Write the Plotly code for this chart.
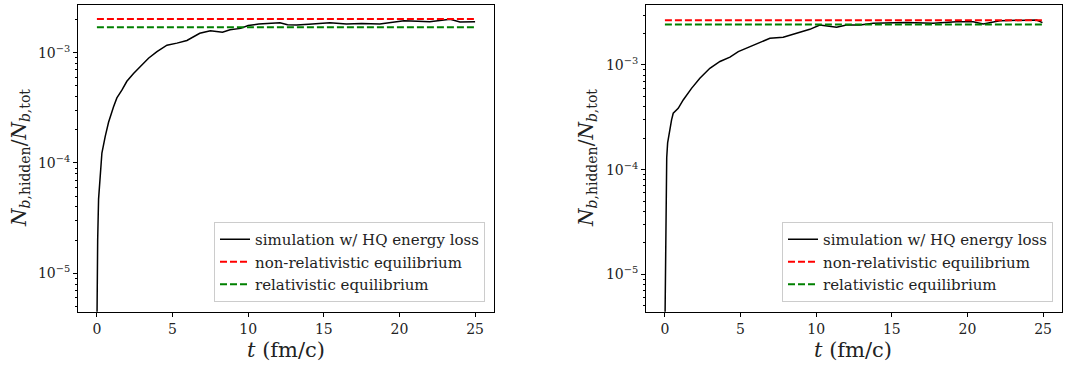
import plotly.graph_objects as go

# ---- data ----
t_left = [0, 0.02, 0.05, 0.11, 0.22, 0.33, 0.55, 0.77, 1.10, 1.32, 1.65, 1.98, 2.42, 2.86,
          3.41, 3.97, 4.63, 5.29, 5.95, 6.8, 7.5, 8.3, 8.8, 9.5, 10.0, 10.7, 12.1, 12.6,
          13.2, 14.0, 15.4, 16.5, 17.5, 18.7, 20.3, 21.2, 22.0, 23.35, 24.0, 25.0]
y_left = [3.2e-6, 1.0e-5, 2.0e-5, 4.7e-5, 8.7e-5, 1.23e-4, 1.74e-4, 2.34e-4, 3.24e-4, 3.89e-4,
          4.57e-4, 5.50e-4, 6.46e-4, 7.41e-4, 8.91e-4, 1.02e-3, 1.17e-3, 1.22e-3, 1.29e-3,
          1.50e-3, 1.58e-3, 1.53e-3, 1.61e-3, 1.66e-3, 1.76e-3, 1.82e-3, 1.87e-3, 1.79e-3,
          1.78e-3, 1.81e-3, 1.87e-3, 1.82e-3, 1.84e-3, 1.82e-3, 1.95e-3, 1.93e-3, 1.91e-3,
          2.01e-3, 1.90e-3, 1.91e-3]
nonrel_left = 2.02e-3
rel_left = 1.70e-3

t_right = [0, 0.04, 0.07, 0.12, 0.18, 0.30, 0.44, 0.55, 0.88, 1.21, 1.76, 2.31, 2.97, 3.64,
           4.30, 4.85, 5.40, 6.06, 6.94, 7.82, 8.70, 9.58, 10.24, 11.35, 12.0, 12.9, 13.77,
           15.97, 17.73, 19.28, 20.38, 21.04, 22.14, 23.46, 24.57, 24.96]
y_right = [3.0e-6, 1.5e-5, 5.1e-5, 1.3e-4, 1.8e-4, 2.4e-4, 2.99e-4, 3.46e-4, 3.85e-4, 4.63e-4,
           5.98e-4, 7.46e-4, 9.29e-4, 1.08e-3, 1.19e-3, 1.34e-3, 1.45e-3, 1.61e-3, 1.80e-3,
           1.84e-3, 2.01e-3, 2.19e-3, 2.41e-3, 2.29e-3, 2.41e-3, 2.41e-3, 2.50e-3, 2.54e-3,
           2.50e-3, 2.59e-3, 2.59e-3, 2.47e-3, 2.65e-3, 2.69e-3, 2.69e-3, 2.54e-3]
nonrel_right = 2.67e-3
rel_right = 2.43e-3

t_eq = [0, 25]
x_ticks = [0, 5, 10, 15, 20, 25]
y_ticks = [1e-5, 1e-4, 1e-3]
y_ticklabels = ["10<sup>−5</sup>", "10<sup>−4</sup>", "10<sup>−3</sup>"]

labels = ["simulation w/ HQ energy loss", "non-relativistic equilibrium", "relativistic equilibrium"]

FONT = "DejaVu Serif"
W, H = 1065, 369


def px(x):
    return x / W


def py(y):
    return 1 - y / H


fig = go.Figure()

panels = [
    dict(t=t_left, y=y_left, nr=nonrel_left, r=rel_left, xa="x", ya="y", leg="legend",
         xdom=[px(78), px(494)], yr=[-5.348, -2.568]),
    dict(t=t_right, y=y_right, nr=nonrel_right, r=rel_right, xa="x2", ya="y2", leg="legend2",
         xdom=[px(646), px(1062)], yr=[-5.357, -2.427]),
]

ydom = [py(311.7), py(5)]

minor_vals = [m * 10 ** k for k in range(-6, -1) for m in range(2, 10)]

for i, p in enumerate(panels):
    fig.add_trace(go.Scatter(x=p["t"], y=p["y"], mode="lines", name=labels[0],
                             line=dict(color="black", width=1.5), xaxis=p["xa"], yaxis=p["ya"],
                             legend=p["leg"]))
    fig.add_trace(go.Scatter(x=t_eq, y=[p["nr"], p["nr"]], mode="lines", name=labels[1],
                             line=dict(color="#ff0000", width=2, dash="7px,3px"),
                             xaxis=p["xa"], yaxis=p["ya"], legend=p["leg"]))
    fig.add_trace(go.Scatter(x=t_eq, y=[p["r"], p["r"]], mode="lines", name=labels[2],
                             line=dict(color="#008000", width=2, dash="7px,3px"),
                             xaxis=p["xa"], yaxis=p["ya"], legend=p["leg"]))

axis_common = dict(showline=True, linecolor="black", linewidth=1, mirror=True,
                   ticks="outside", tickcolor="black", ticklen=4, tickwidth=1,
                   showgrid=False, zeroline=False,
                   tickfont=dict(family=FONT, size=14, color="#222"))

layout = dict(width=W, height=H, autosize=False, margin=dict(l=0, r=0, t=0, b=0),
              paper_bgcolor="white", plot_bgcolor="white", showlegend=True,
              font=dict(family=FONT, color="#222"))

for i, p in enumerate(panels):
    sx = "" if i == 0 else "2"
    layout["xaxis" + sx] = dict(axis_common, domain=p["xdom"], range=[-1.25, 26.25],
                                tickvals=x_ticks, anchor="y" + sx)
    layout["yaxis" + sx] = dict(axis_common, domain=ydom, type="log", range=p["yr"],
                                tickvals=y_ticks, ticktext=y_ticklabels, anchor="x" + sx,
                                minor=dict(tickvals=minor_vals, ticks="outside", ticklen=2,
                                           tickcolor="black", showgrid=False))

leg_common = dict(bgcolor="rgba(255,255,255,0.8)", bordercolor="#cccccc", borderwidth=1,
                  font=dict(family=FONT, size=15, color="#222"),
                  xanchor="right", yanchor="bottom", tracegroupgap=0)
layout["legend"] = dict(leg_common, x=px(485), y=py(302))
layout["legend2"] = dict(leg_common, x=px(1053), y=py(302))

fig.update_layout(**layout)

ytitle = "<i>N</i><sub><i>b</i>,hidden</sub>/<i>N</i><sub><i>b</i>,tot</sub>"
xtitle = "<i>t</i> (fm/c)"
for cx in [20, 587]:
    fig.add_annotation(text=ytitle, x=px(cx), y=py(158), xref="paper", yref="paper",
                       showarrow=False, textangle=-90, xanchor="center", yanchor="middle",
                       font=dict(family=FONT, size=20, color="#222"))
for cx in [286, 853]:
    fig.add_annotation(text=xtitle, x=px(cx), y=py(350), xref="paper", yref="paper",
                       showarrow=False, xanchor="center", yanchor="middle",
                       font=dict(family=FONT, size=21, color="#222"))

# remove the default 8px page margin so the figure sits at the window's top-left corner
fig.write_html("out.html", config={"displayModeBar": False},
               post_script="document.body.style.margin='0';")
